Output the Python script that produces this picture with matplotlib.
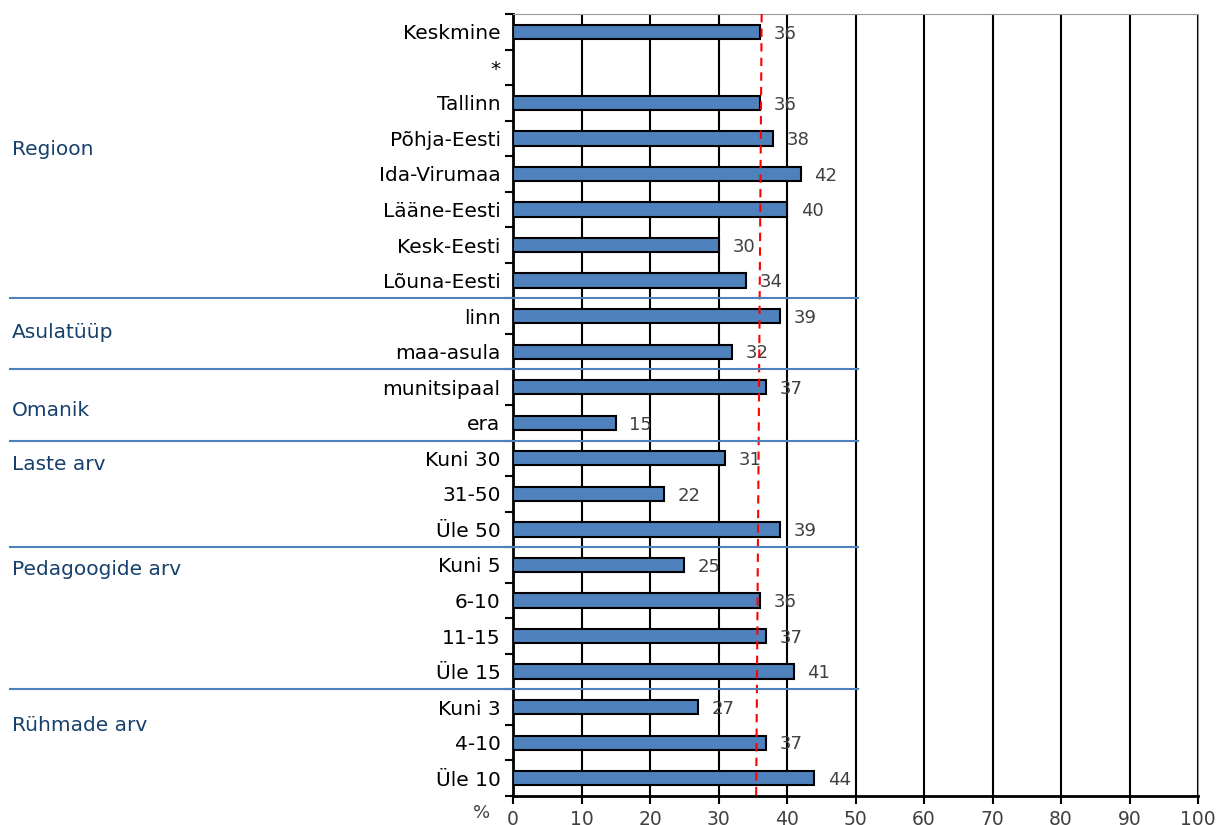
import matplotlib
matplotlib.use("Agg")
from matplotlib import pyplot as plt
from matplotlib import transforms

categories = ["Keskmine", "*", "Tallinn", "Põhja-Eesti", "Ida-Virumaa", "Lääne-Eesti",
              "Kesk-Eesti", "Lõuna-Eesti", "linn", "maa-asula", "munitsipaal", "era",
              "Kuni 30", "31-50", "Üle 50", "Kuni 5", "6-10", "11-15", "Üle 15",
              "Kuni 3", "4-10", "Üle 10"]
values = [36, None, 36, 38, 42, 40, 30, 34, 39, 32, 37, 15,
          31, 22, 39, 25, 36, 37, 41, 27, 37, 44]
groups = ["Regioon", "Asulatüüp", "Omanik", "Laste arv", "Pedagoogide arv", "Rühmade arv"]
group_pos = [3.32, 8.45, 10.65, 12.17, 15.13, 19.52]
separators = [7.5, 9.5, 11.5, 14.5, 18.5]
avg_line = (36.3, 35.5)  # red dashed reference, slightly slanted in original

fig = plt.figure(figsize=(12.23, 8.25), dpi=100)
ax = fig.add_axes([513/1223, 1-796/825, 685/1223, 782/825])

ys = list(range(len(categories)))
for y, v in zip(ys, values):
    if v is None:
        continue
    ax.barh(y, v, height=0.4, color="#4F81BD", edgecolor="black", linewidth=1.5, zorder=3)
    ax.text(v + 2, y + 0.05, str(v), va="center", ha="left", fontsize=13, color="#404040", zorder=4)

ax.set_xlim(0, 100)
ax.set_ylim(len(categories) - 0.5, -0.5)
ax.set_xticks(range(0, 101, 10))
ax.set_xticklabels([str(t) for t in range(0, 101, 10)], fontsize=13.5, color="#404040")
ax.set_yticks(ys)
ax.set_yticklabels(categories, fontsize=14.5)
ax.set_yticks([y + 0.5 for y in range(-1, len(categories))], minor=True)
ax.tick_params(axis="y", which="major", length=0, pad=9)
ax.tick_params(axis="y", which="minor", length=6, width=1.5, direction="out")
ax.tick_params(axis="x", length=6, width=1.5, direction="out", pad=4)
for x in range(10, 101, 10):
    ax.axvline(x, color="black", linewidth=1.5, zorder=1)
ax.spines["left"].set_linewidth(2)
ax.spines["bottom"].set_linewidth(2)
ax.spines["top"].set_color("#999999")
ax.spines["right"].set_color("#999999")

ax.plot([avg_line[0], avg_line[1]], [-0.5, len(categories) - 0.5], color="red",
        linestyle=(0, (4, 3)), linewidth=1.5, zorder=5)

trans = transforms.blended_transform_factory(fig.transFigure, ax.transData)
for s in separators:
    ax.plot([10/1223, 858/1223], [s, s], color="#4F81BD", linewidth=1.5, transform=trans,
            clip_on=False, zorder=6)
for g, p in zip(groups, group_pos):
    ax.text(12/1223, p, g, transform=trans, fontsize=14.5, color="#17406D", va="center", ha="left")

fig.text(482/1223, 1-813/825, "%", fontsize=13, color="#404040", ha="center", va="center")

fig.savefig("out.png", dpi=100)
